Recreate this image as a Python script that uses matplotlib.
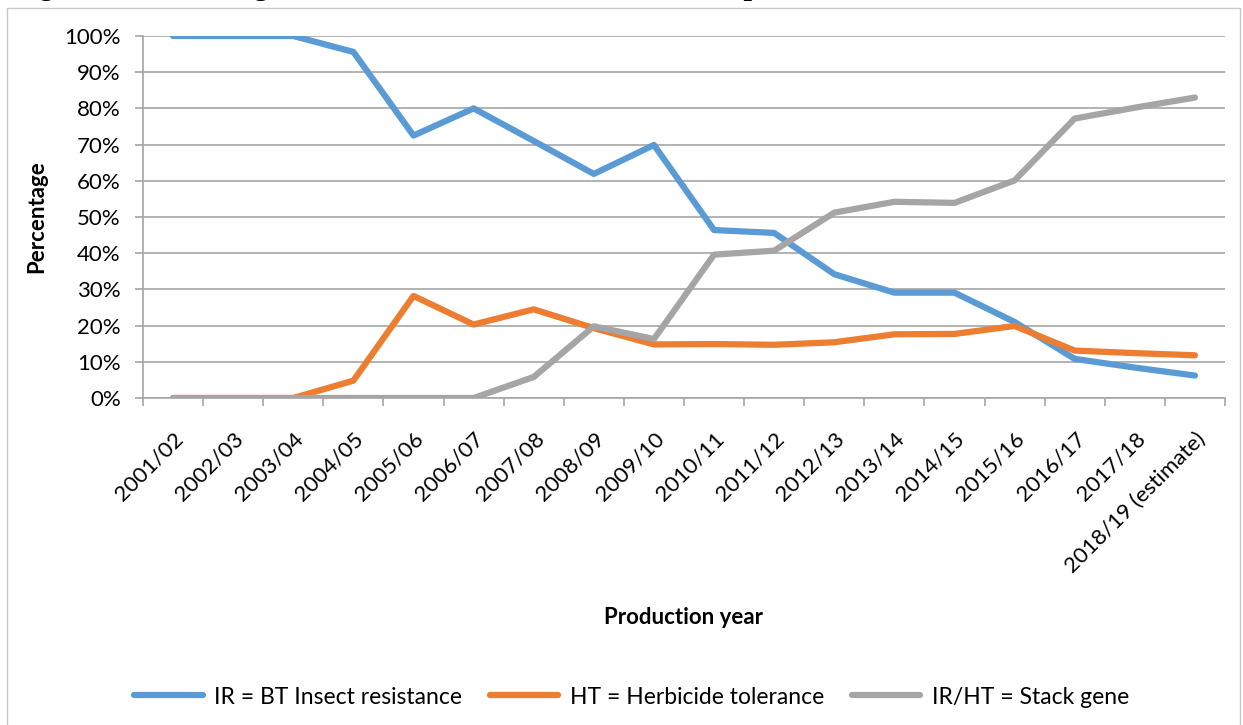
import matplotlib.pyplot as plt
from matplotlib.patches import Rectangle
from matplotlib.ticker import FixedLocator, PercentFormatter
from matplotlib.transforms import ScaledTranslation

years = ['2001/02', '2002/03', '2003/04', '2004/05', '2005/06', '2006/07',
         '2007/08', '2008/09', '2009/10', '2010/11', '2011/12', '2012/13',
         '2013/14', '2014/15', '2015/16', '2016/17', '2017/18',
         '2018/19 (estimate)']
ir_bt = [100, 100, 100, 95.6, 72.5, 80, 71, 61.9, 69.9, 46.4, 45.6, 34.2,
         29.1, 29.1, 21, 10.8, 8.4, 6.2]
ht = [0, 0, 0, 4.8, 28.2, 20.3, 24.5, 19.3, 14.8, 14.9, 14.7, 15.4,
      17.6, 17.7, 19.9, 13.1, 12.4, 11.8]
stack = [0, 0, 0, 0, 0, 0, 5.8, 19.8, 16.3, 39.6, 40.7, 51.2,
         54.2, 53.9, 60.1, 77.2, 80.2, 83]

series = [('IR = BT Insect resistance', ir_bt, '#5B9BD5'),
          ('HT = Herbicide tolerance', ht, '#ED7D31'),
          ('IR/HT = Stack gene', stack, '#A5A5A5')]

plt.rcParams['font.family'] = ['Lato', 'DejaVu Sans']

fig = plt.figure(figsize=(12.43, 7.25), dpi=100)
ax = fig.add_axes([143 / 1243, 1 - 398 / 725, (1225 - 143) / 1243, (398 - 36) / 725])

# chart frame (cut at the bottom like the screenshot)
fig.patches.append(Rectangle((7 / 1243, -0.1), 1233 / 1243, 1.1 - 8 / 725,
                             transform=fig.transFigure, fill=False,
                             edgecolor='#c8c8c8', linewidth=1))

# caption above the chart, almost entirely cut off by the page crop
fig.text(12 / 1243, 1 - 1 / 725,
         'Figure 1: Percentage of GM cotton area in South Africa planted with different traits',
         family='Liberation Serif', weight='bold', fontsize=22, va='bottom')

x = list(range(len(years)))
for name, vals, col in series:
    ax.plot(x, vals, color=col, linewidth=4.5, label=name,
            solid_capstyle='round', solid_joinstyle='round')

ax.set_xlim(-0.5, len(years) - 0.5)
ax.set_ylim(0, 100)
ax.yaxis.set_major_locator(FixedLocator(range(0, 101, 10)))
ax.yaxis.set_major_formatter(PercentFormatter(decimals=0))
ax.grid(axis='y', color='#a6a6a6', linewidth=1.2)
ax.set_axisbelow(True)

ax.set_xticks(x)
ax.set_xticklabels(years, rotation=45, ha='right', rotation_mode='anchor',
                   fontsize=16)
shift = ScaledTranslation(8 / 100, 0, fig.dpi_scale_trans)
for lab in ax.get_xticklabels():
    lab.set_transform(lab.get_transform() + shift)
ax.xaxis.set_minor_locator(FixedLocator([i - 0.5 for i in range(len(years) + 1)]))
ax.tick_params(axis='x', which='major', length=0, pad=22)
ax.tick_params(axis='x', which='minor', length=6, color='#a6a6a6', width=1.2)
ax.tick_params(axis='y', length=6, color='#a6a6a6', width=1.2, labelsize=16, pad=10)

for s in ['top', 'right']:
    ax.spines[s].set_visible(False)
for s in ['left', 'bottom']:
    ax.spines[s].set_color('#a6a6a6')
    ax.spines[s].set_linewidth(1.2)

ax.set_ylabel('Percentage', fontsize=16, weight='bold', labelpad=12)
ax.set_xlabel('Production year', fontsize=16, weight='bold', labelpad=22)

fig.legend(loc='center', bbox_to_anchor=(0.508, 1 - 697 / 725), ncol=3,
           frameon=False, fontsize=16.5, handlelength=3.0, columnspacing=1.2,
           handletextpad=0.5)

fig.savefig('out.png', dpi=100)
